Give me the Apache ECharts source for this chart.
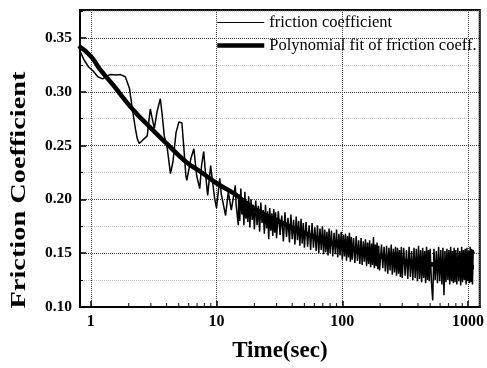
<!DOCTYPE html>
<html>
<head>
<meta charset="utf-8">
<script src="https://cdn.jsdelivr.net/npm/echarts@6/dist/echarts.min.js"></script>
<style>
  html, body { margin: 0; padding: 0; background: #fff; }
  #chart { width: 487px; height: 368px; }
</style>
</head>
<body>
<div id="chart"></div>
<script>
const rawTime = [
  // running-in oscillations
  0.79, 0.88, 0.96, 1.04, 1.135, 1.24, 1.36, 1.44, 1.6, 1.72, 1.88, 2.03, 2.14, 2.26, 2.34, 2.43,
  2.66, 2.81, 2.97, 3.08, 3.2, 3.37, 3.57, 3.7, 3.84, 4.06, 4.3, 4.5, 4.76, 5.02, 5.3, 5.5,
  5.7, 5.8, 6.25, 6.6, 6.95, 7.35, 7.6, 7.9, 8.2, 8.5, 8.97, 9.1, 9.65, 10.0, 10.6, 10.9,
  11.8, 12.4, 13.1, 14.1, 14.3, 14.9,
  // noisy steady part
  15, 15.3, 15.6, 15.9, 16.2, 16.5, 16.8, 17.1, 17.4, 17.7, 18, 18.4, 18.8, 19.2, 19.6, 20,
  20.5, 21, 21.5, 22, 22.5, 23, 23.5, 24, 24.5, 25, 25.5, 26, 26.5, 27, 27.5, 28, 28.5, 29, 29.5, 30,
  31, 32, 33, 34, 35, 36, 37, 38, 39, 40, 41, 42, 43, 44, 45, 46, 47, 48, 49, 50,
  51.5, 53, 54.5, 56, 57.5, 59, 60.5, 62, 63.5, 65, 66.5, 68, 69.5, 71, 72.5, 74, 75.5, 77, 78.5, 80,
  82, 84, 86, 88, 90, 92, 94, 96, 98, 100, 102, 104, 106, 108, 110, 112, 114, 116, 118, 120,
  123, 126, 129, 132, 135, 138, 141, 144, 147, 150, 153, 156, 159, 162, 165, 168, 171, 174, 177, 180,
  183, 186, 189, 192, 195, 198,
  205, 210, 215, 220, 225, 230, 235, 240, 245, 250, 255, 260, 265, 270, 275, 280, 285, 290, 295, 300,
  308, 316, 324, 332, 340, 348, 356, 364, 372, 380, 388, 396, 404, 412, 420, 428, 436, 444, 452, 460,
  468, 476, 484, 492, 500,
  512, 524, 536, 548, 560, 572, 584, 596, 608, 620, 632, 644, 656, 668, 680, 692, 704, 716, 728, 740,
  752, 764, 776, 788, 800,
  815, 830, 845, 860, 875, 890, 905, 920, 935, 950, 965, 980, 995, 1010, 1025, 1040, 1055, 1070, 1085, 1100,
  1115
];
const rawFriction = [
  0.342, 0.330, 0.323, 0.3195, 0.314, 0.312, 0.315, 0.316, 0.3155, 0.316, 0.314, 0.303, 0.284, 0.266, 0.2565, 0.252,
  0.2565, 0.259, 0.284, 0.275, 0.266, 0.282, 0.2935, 0.278, 0.259, 0.247, 0.224, 0.235, 0.262, 0.272, 0.271, 0.247,
  0.222, 0.2176, 0.238, 0.247, 0.222, 0.21, 0.2315, 0.2445, 0.222, 0.2037, 0.2315, 0.233, 0.201, 0.192, 0.2195, 0.205,
  0.185, 0.207, 0.19, 0.213, 0.195, 0.176,

  0.205, 0.180, 0.210, 0.186, 0.198, 0.176, 0.207, 0.182, 0.196, 0.179, 0.203, 0.174, 0.200, 0.181, 0.195, 0.172,
  0.199, 0.176, 0.194, 0.170, 0.197, 0.178, 0.190, 0.168, 0.195, 0.173, 0.189, 0.163, 0.192, 0.171, 0.187, 0.166, 0.191, 0.169, 0.188, 0.164,
  0.189, 0.167, 0.185, 0.161, 0.188, 0.165, 0.183, 0.160, 0.186, 0.163, 0.181, 0.158, 0.184, 0.162, 0.180, 0.157, 0.182, 0.159, 0.178, 0.155,
  0.179, 0.156, 0.176, 0.153, 0.178, 0.155, 0.174, 0.152, 0.176, 0.150, 0.173, 0.153, 0.175, 0.149, 0.172, 0.151, 0.170, 0.148, 0.173, 0.150,
  0.171, 0.147, 0.169, 0.149, 0.172, 0.146, 0.168, 0.148, 0.170, 0.144, 0.167, 0.147, 0.168, 0.143, 0.166, 0.146, 0.169, 0.142, 0.165, 0.144,
  0.164, 0.141, 0.166, 0.143, 0.162, 0.140, 0.164, 0.139, 0.161, 0.142, 0.163, 0.138, 0.160, 0.140, 0.162, 0.137, 0.159, 0.139, 0.165, 0.136,
  0.158, 0.138, 0.160, 0.135, 0.157, 0.134,
  0.158, 0.136, 0.156, 0.133, 0.157, 0.131, 0.155, 0.134, 0.158, 0.130, 0.154, 0.132, 0.156, 0.129, 0.155, 0.131, 0.153, 0.128, 0.156, 0.127,
  0.155, 0.129, 0.153, 0.126, 0.156, 0.128, 0.152, 0.125, 0.155, 0.127, 0.154, 0.124, 0.157, 0.126, 0.153, 0.123, 0.155, 0.127, 0.152, 0.122,
  0.156, 0.125, 0.153, 0.124, 0.154,
  0.123, 0.106, 0.154, 0.125, 0.152, 0.122, 0.156, 0.124, 0.153, 0.121, 0.155, 0.111, 0.152, 0.123, 0.154, 0.125, 0.153, 0.121, 0.156, 0.124,
  0.152, 0.122, 0.155, 0.123, 0.153,
  0.121, 0.155, 0.124, 0.152, 0.120, 0.156, 0.123, 0.153, 0.125, 0.154, 0.121, 0.155, 0.124, 0.152, 0.122, 0.156, 0.123, 0.154, 0.121, 0.153,
  0.150
];

// polynomial fit curve
const fitTime = [0.8, 1.0, 1.18, 1.5, 2.14, 2.92, 3.96, 5.7, 7.6, 10, 14, 18, 25, 35, 50, 70, 100, 150, 200, 300, 400, 700, 1115];
const fitFriction = [0.3426, 0.333, 0.321, 0.3065, 0.284, 0.2676, 0.2525, 0.235, 0.225, 0.215, 0.205, 0.195, 0.185, 0.177, 0.169, 0.162, 0.156, 0.151, 0.147, 0.143, 0.141, 0.138, 0.137];

// minor ticks of the log time axis
const xMinorTicks = [2, 3, 4, 5, 6, 7, 8, 9, 20, 30, 40, 50, 60, 70, 80, 90, 200, 300, 400, 500, 600, 700, 800, 900];

const serif = "'Liberation Serif', 'Times New Roman', serif";
const yMin = 0.10;

const chart = echarts.init(document.getElementById("chart"), null, { renderer: "canvas" });

const option = {
  animation: false,
  backgroundColor: "#fff",
  grid: {
    left: 80, top: 10, right: 4, bottom: 59,
    show: true, borderColor: "#000", borderWidth: 2
  },
  legend: {
    orient: "vertical",
    left: 215, top: 14, padding: 0,
    itemWidth: 47, itemHeight: 14, itemGap: 6,
    itemStyle: { opacity: 0 },
    textStyle: { fontFamily: serif, fontSize: 16.5, color: "#000" },
    data: [
      { name: "friction coefficient", lineStyle: { width: 1.2, color: "#000" } },
      { name: "Polynomial fit of friction coeff.", lineStyle: { width: 4.5, color: "#000" } }
    ]
  },
  graphic: [{
    type: "text",
    x: 20, y: 190,
    rotation: Math.PI / 2,
    scaleX: 1.35,
    style: {
      text: "Friction Coefficient",
      font: "bold 21px " + serif,
      fill: "#000",
      align: "center",
      verticalAlign: "middle"
    }
  }],
  xAxis: {
    type: "log",
    min: 0.82, max: 1240,
    name: "Time(sec)",
    nameLocation: "middle",
    nameGap: 33,
    nameTextStyle: { fontFamily: serif, fontSize: 23, fontWeight: "bold", color: "#000" },
    axisLine: { show: true, lineStyle: { color: "#000", width: 2 } },
    axisTick: { inside: true, length: 6, lineStyle: { color: "#000", width: 1.5 } },
    axisLabel: {
      showMinLabel: false, showMaxLabel: false,
      fontFamily: serif, fontSize: 16, fontWeight: "bold", color: "#000", margin: 7,
      formatter: v => String(Math.round(v))
    },
    splitLine: { show: true, lineStyle: { color: "#444", type: "dotted", width: 1 } }
  },
  yAxis: {
    type: "value",
    min: yMin, max: 0.376, interval: 0.05,
    axisLine: { show: true, lineStyle: { color: "#000", width: 2 } },
    axisTick: { inside: true, length: 6, lineStyle: { color: "#000", width: 1.5 } },
    minorTick: { show: true, splitNumber: 2, length: 3, lineStyle: { color: "#000" } },
    axisLabel: {
      showMaxLabel: false,
      fontFamily: serif, fontSize: 15.5, fontWeight: "bold", color: "#000", margin: 8,
      formatter: v => v.toFixed(2)
    },
    splitLine: { show: true, lineStyle: { color: "#444", type: "dotted", width: 1 } },
    minorSplitLine: { show: true, lineStyle: { color: "#c4c4c4", type: "dotted", width: 1 } }
  },
  series: [{
    name: "Polynomial fit of friction coeff.",
    type: "line",
    symbol: "none",
    smooth: true,
    data: fitTime.map((t, i) => [t, fitFriction[i]]),
    lineStyle: { color: "#000", width: 4.5 },
    itemStyle: { color: "#000" },
    z: 2
  }, {
    // raw trace drawn over the fit, as in the original
    name: "friction coefficient",
    type: "line",
    symbol: "none",
    data: rawTime.map((t, i) => [t, rawFriction[i]]),
    lineStyle: { color: "#000", width: 1.5 },
    itemStyle: { color: "#000" },
    z: 3
  }, {
    // small inward ticks between the decades
    name: "minor ticks",
    type: "scatter",
    silent: true,
    symbol: "rect",
    symbolSize: [1.2, 4],
    symbolOffset: [0, -2],
    itemStyle: { color: "#000" },
    data: xMinorTicks.map(t => [t, yMin]),
    z: 5
  }]
};

chart.setOption(option);
</script>
</body>
</html>
